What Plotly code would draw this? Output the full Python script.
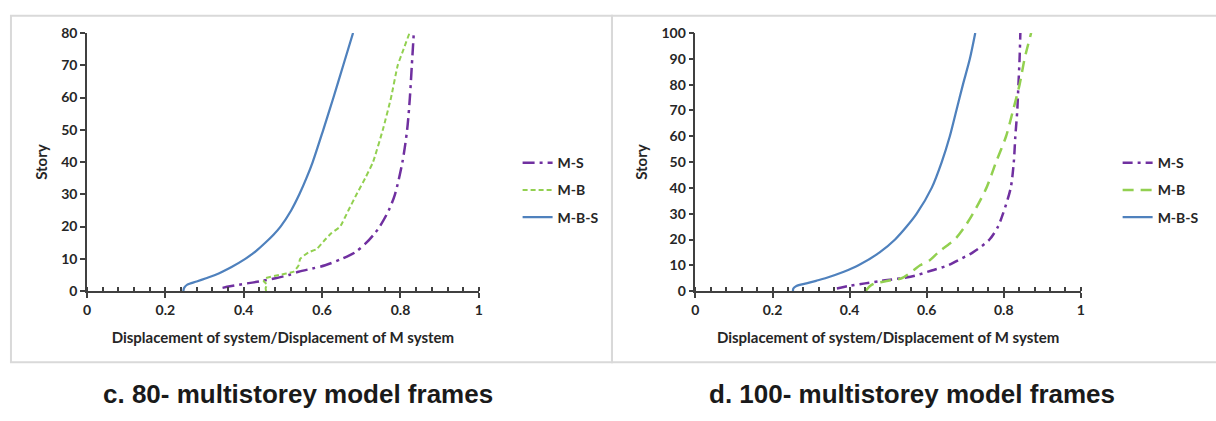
import plotly.graph_objects as go

W, H = 1216, 421

# ---------------- data: 80-storey frames ----------------
c_ms_x = [0.346, 0.365, 0.388, 0.439, 0.481, 0.515, 0.540, 0.575, 0.608, 0.650, 0.684, 0.713, 0.735, 0.747, 0.770, 0.786, 0.805, 0.817, 0.824, 0.829, 0.834]
c_ms_y = [1, 1.5, 2, 3, 4, 5, 6, 7, 8, 10, 12, 15, 18, 20, 25, 30, 40, 50, 60, 70, 80]
c_mb_x = [0.457, 0.456, 0.460, 0.451, 0.456, 0.490, 0.527, 0.540, 0.544, 0.565, 0.586, 0.608, 0.624, 0.646, 0.667, 0.688, 0.710, 0.730, 0.755, 0.776, 0.793, 0.808, 0.823]
c_mb_y = [0, 1, 2, 3, 4, 5, 6, 8, 10, 12, 13, 16, 18, 20, 25, 30, 35, 40, 50, 60, 70, 75, 80]
c_mbs_x = [0.246, 0.248, 0.256, 0.280, 0.304, 0.327, 0.369, 0.404, 0.432, 0.455, 0.476, 0.494, 0.521, 0.542, 0.560, 0.576, 0.603, 0.629, 0.654, 0.679]
c_mbs_y = [0, 1, 2, 3, 4, 5, 7.5, 10, 12.5, 15, 17.5, 20, 25, 30, 35, 40, 50, 60, 70, 80]

# ---------------- data: 100-storey frames ----------------
d_ms_x = [0.367, 0.398, 0.440, 0.483, 0.535, 0.570, 0.613, 0.656, 0.682, 0.720, 0.763, 0.785, 0.798, 0.818, 0.826, 0.830, 0.835, 0.838, 0.841, 0.843]
d_ms_y = [1, 2, 3, 4, 5, 6, 8, 10, 12, 15, 20, 25, 30, 40, 50, 60, 70, 80, 90, 100]
d_mb_x = [0.441, 0.453, 0.466, 0.500, 0.535, 0.565, 0.583, 0.608, 0.630, 0.656, 0.673, 0.699, 0.720, 0.755, 0.780, 0.806, 0.824, 0.841, 0.854, 0.871]
d_mb_y = [0, 2, 3, 4, 5, 8, 10, 12, 15, 18, 20, 25, 30, 40, 50, 60, 70, 80, 90, 100]
d_mbs_x = [0.253, 0.254, 0.262, 0.288, 0.313, 0.337, 0.385, 0.423, 0.478, 0.518, 0.548, 0.574, 0.613, 0.639, 0.660, 0.677, 0.694, 0.712, 0.726]
d_mbs_y = [0, 1, 2, 3, 4, 5, 7.5, 10, 15, 20, 25, 30, 40, 50, 60, 70, 80, 90, 100]

series_names = ["M-S", "M-B", "M-B-S"]
x_title = "Displacement of system/Displacement of M system"
y_title = "Story"
captions = ["c. 80- multistorey model frames", "d. 100- multistorey model frames"]
x_ticks = [0, 0.2, 0.4, 0.6, 0.8, 1]
x_ticktext = ["0", "0.2", "0.4", "0.6", "0.8", "1"]

PURPLE = "#7030A0"
GREEN = "#92D050"
BLUE = "#4F81BD"
AX = "#404040"
TXT = "#262626"
FONT = "Lato"

def px_x(p):
    return p / W

def px_y(p):
    return 1 - p / H

fig = go.Figure()

SM = 0.8
# left panel traces
fig.add_trace(go.Scatter(x=c_ms_x, y=c_ms_y, mode="lines", name=series_names[0],
                         line=dict(color=PURPLE, width=2.5, dash="12px,5px,3px,5px", shape="spline", smoothing=SM),
                         xaxis="x", yaxis="y", legend="legend", legendgroup="a1"))
fig.add_trace(go.Scatter(x=c_mb_x, y=c_mb_y, mode="lines", name=series_names[1],
                         line=dict(color=GREEN, width=2, dash="5px,3px", shape="spline", smoothing=0.4),
                         xaxis="x", yaxis="y", legend="legend", legendgroup="a2"))
fig.add_trace(go.Scatter(x=c_mbs_x, y=c_mbs_y, mode="lines", name=series_names[2],
                         line=dict(color=BLUE, width=2.25, shape="spline", smoothing=SM),
                         xaxis="x", yaxis="y", legend="legend", legendgroup="a3"))

# right panel traces
fig.add_trace(go.Scatter(x=d_ms_x, y=d_ms_y, mode="lines", name=series_names[0],
                         line=dict(color=PURPLE, width=2.5, dash="10px,5px,3px,5px", shape="spline", smoothing=SM),
                         xaxis="x2", yaxis="y2", legend="legend2", legendgroup="b1"))
fig.add_trace(go.Scatter(x=d_mb_x, y=d_mb_y, mode="lines", name=series_names[1],
                         line=dict(color=GREEN, width=2.5, dash="11px,7px", shape="spline", smoothing=SM),
                         xaxis="x2", yaxis="y2", legend="legend2", legendgroup="b2"))
fig.add_trace(go.Scatter(x=d_mbs_x, y=d_mbs_y, mode="lines", name=series_names[2],
                         line=dict(color=BLUE, width=2.25, shape="spline", smoothing=SM),
                         xaxis="x2", yaxis="y2", legend="legend2", legendgroup="b3"))

tickfont = dict(family=FONT, size=14, color=TXT, weight="bold")
titlefont = dict(family=FONT, size=15, color=TXT, weight="bold")

def xaxis(domain, anchor):
    return dict(domain=domain, anchor=anchor, range=[0, 1], tickmode="array",
                tickvals=x_ticks, ticktext=x_ticktext, showgrid=False, zeroline=False,
                showline=True, linecolor=AX, linewidth=1.5, ticks="outside", ticklen=5,
                tickwidth=1.5, tickcolor=AX, tickfont=tickfont,
                minor=dict(dtick=0.04, tick0=0, ticks="inside", ticklen=4, tickwidth=1.5, tickcolor=AX),
                title=dict(text=x_title, font=titlefont, standoff=16), fixedrange=True)

def yaxis(domain, anchor, top):
    return dict(domain=domain, anchor=anchor, range=[0, top], dtick=10, showgrid=False,
                zeroline=False, showline=True, linecolor=AX, linewidth=1.5,
                ticks="outside", ticklen=5, tickwidth=1.5, tickcolor=AX, tickfont=tickfont,
                title=dict(text=y_title, font=titlefont, standoff=10), fixedrange=True)

ydom = [px_y(294), px_y(25)]
legfont = dict(family=FONT, size=14, color=TXT, weight="bold")
fig.update_layout(
    width=W, height=H, margin=dict(l=0, r=0, t=0, b=0),
    paper_bgcolor="white", plot_bgcolor="white",
    font=dict(family=FONT, color=TXT),
    xaxis=xaxis([px_x(83.5), px_x(478)], "y"),
    yaxis=yaxis(ydom, "x", 80),
    xaxis2=xaxis([px_x(696), px_x(1084)], "y2"),
    yaxis2=yaxis(ydom, "x2", 100),
    legend=dict(x=px_x(517), y=px_y(144), xanchor="left", yanchor="top",
                font=legfont, tracegroupgap=6, bgcolor="rgba(0,0,0,0)"),
    legend2=dict(x=px_x(1121), y=px_y(144), xanchor="left", yanchor="top",
                 font=legfont, tracegroupgap=6, bgcolor="rgba(0,0,0,0)"),
    showlegend=True,
)

# panel frames
BORDER = "#d9d9d9"
fig.add_shape(type="rect", xref="paper", yref="paper",
              x0=px_x(7), x1=px_x(612), y0=px_y(368), y1=px_y(7),
              line=dict(color=BORDER, width=2), layer="below")
fig.add_shape(type="rect", xref="paper", yref="paper",
              x0=px_x(612), x1=px_x(1230), y0=px_y(368), y1=px_y(7),
              line=dict(color=BORDER, width=2), layer="below")

# captions
for cx, txt in zip([px_x(296), px_x(914)], captions):
    fig.add_annotation(x=cx, y=px_y(401), xref="paper", yref="paper", text=txt,
                       showarrow=False, xanchor="center", yanchor="middle",
                       font=dict(family="Liberation Sans", size=26, color="#1a1a1a", weight="bold"))

fig.write_html("out.html")
